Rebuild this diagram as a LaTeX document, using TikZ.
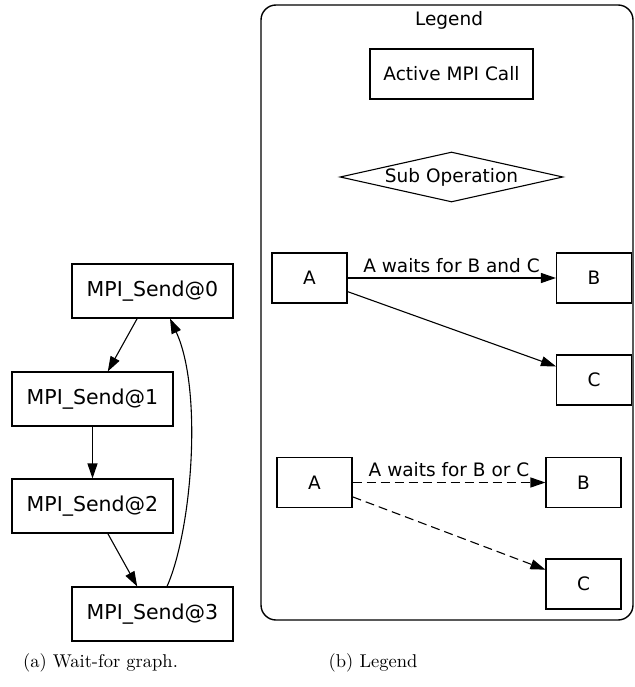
\documentclass[tikz,border=0pt]{standalone}
\usepackage{fontspec}
\newfontfamily\dvs{DejaVu Sans}
\usetikzlibrary{shapes.geometric,arrows.meta}
\begin{document}
\begin{tikzpicture}[x=1pt,y=-1pt,
  gbox/.style={draw, line width=1.1pt, rectangle, inner sep=0pt, minimum width=161pt, minimum height=54pt, font=\dvs\fontsize{20.5}{24}\selectfont},
  lbox/.style={draw, line width=1.1pt, rectangle, inner sep=0pt, minimum width=75pt, minimum height=50pt, font=\dvs\fontsize{18.5}{22}\selectfont},
  ltext/.style={font=\dvs\fontsize{18.5}{22}\selectfont, inner sep=0pt},
  captext/.style={font=\fontsize{10}{12}\selectfont, inner sep=0pt, scale=1.85},
  arr/.style={line width=1.1pt, -{Triangle[length=15pt,width=10pt]}},
  darr/.style={arr, dash pattern=on 9pt off 5pt}
]
\useasboundingbox (0,0) rectangle (634,687);
% left graph
\node[gbox] (s0) at (152.5,291) {MPI\_Send@0};
\node[gbox] (s1) at (92.5,399) {MPI\_Send@1};
\node[gbox] (s2) at (92.5,506) {MPI\_Send@2};
\node[gbox] (s3) at (152.5,614) {MPI\_Send@3};
\draw[arr] (s0) -- (s1);
\draw[arr] (s1) -- (s2);
\draw[arr] (s2) -- (s3);
\draw[arr] (s3.north -| 167,0) .. controls (192,530) and (203,390) .. (s0.south -| 170,0);
% legend
\draw[line width=1.4pt, rounded corners=15pt] (261,5) rectangle (633,620);
\node[ltext] (lg) at (449,20) {Legend};
\node[lbox, minimum width=163pt] (amc) at (451.5,74) {Active MPI Call};
\node[draw, line width=1.1pt, diamond, aspect=4.46, inner sep=0pt, minimum width=223pt, minimum height=50pt, font=\dvs\fontsize{18.5}{22}\selectfont] (sub) at (451.5,177) {Sub Operation};
\node[lbox] (a1) at (309.5,278) {A};
\node[lbox] (b1) at (594,278) {B};
\node[lbox] (c1) at (594,380) {C};
\draw[arr] (a1) -- (b1);
\draw[arr] (a1) -- (c1);
\node[ltext] (l1) at (451.5,266) {A waits for B and C};
\node[lbox] (a2) at (314.5,482.5) {A};
\node[lbox] (b2) at (583.5,482.5) {B};
\node[lbox] (c2) at (583.5,584) {C};
\draw[darr] (a2) -- (b2);
\draw[darr] (a2) -- (c2);
\node[ltext] (l2) at (449,470) {A waits for B or C};
% captions
\node[captext] (ca) at (100.5,663) {(a) Wait-for graph.};
\node[captext] (cb) at (373,663) {(b) Legend};
\end{tikzpicture}
\end{document}
